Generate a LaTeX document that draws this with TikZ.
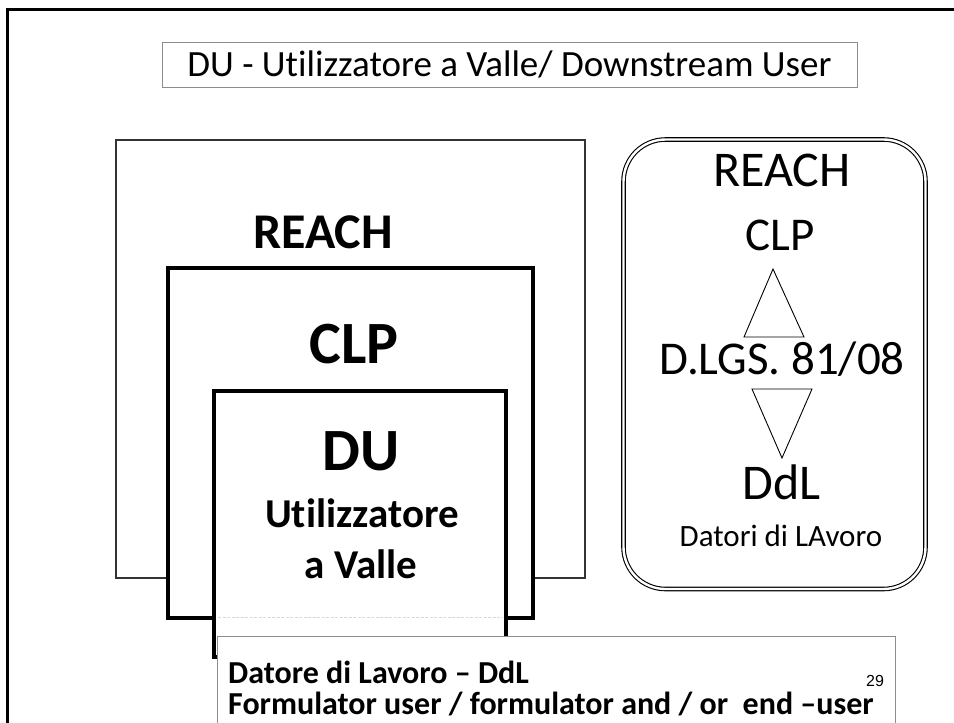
\documentclass[tikz,border=0pt]{standalone}
\usepackage{fontspec}
\setmainfont{Carlito}[Ligatures={NoCommon}]
\newfontfamily\arialf{Liberation Sans}
\begin{document}
\begin{tikzpicture}[x=1pt,y=-1pt,
  txt/.style={inner sep=0pt, anchor=base},
  thickbox/.style={draw=black, line width=4pt, fill=white},
  thinbox/.style={draw=black!80, line width=1.3pt},
  graybox/.style={draw=black!45, line width=0.9pt, fill=white},
  tri/.style={draw=black, line width=0.9pt}
]
\useasboundingbox (0,0) rectangle (954,723);
% slide frame
\draw[line width=3pt] (7,730) -- (7,9) -- (960,9);
% title
\node[graybox, minimum width=695pt, minimum height=45pt, inner sep=0pt,
      font=\fontsize{37}{37}\selectfont] (title) at (509.5,64.5)
      {DU - Utilizzatore a Valle/ Downstream User};
% nested boxes
\draw[thinbox] (116,140) rectangle (585,578);
\draw[thickbox] (168,268) rectangle (533,618);
\draw[thickbox] (214,391) rectangle (506,657);
\draw[black!15, line width=0.8pt, dash pattern=on 3pt off 1.5pt] (218,617) -- (503,617);
\node[txt, font=\fontsize{50}{50}\selectfont\bfseries] (reachL) at (323,248) {REACH};
\node[txt, font=\fontsize{60}{60}\selectfont\bfseries] (clpL) at (354,363) {CLP};
\node[txt, font=\fontsize{60}{60}\selectfont\bfseries] (duL) at (361,470) {DU};
\node[txt, font=\fontsize{41}{41}\selectfont\bfseries] (util) at (362,527) {Utilizzatore};
\node[txt, font=\fontsize{41}{41}\selectfont\bfseries] (valle) at (361,578) {a Valle};
% right rounded box
\draw[double, double distance=2.4pt, line width=1.1pt, rounded corners=42pt]
  (623.5,139.5) rectangle (925.5,589);
\node[txt, font=\fontsize{50}{50}\selectfont] (reachR) at (782,186) {REACH};
\node[txt, font=\fontsize{47}{47}\selectfont] (clpR) at (780,250) {CLP};
\node[txt, font=\fontsize{47}{47}\selectfont] (dlgs) at (782,374) {D.LGS. 81/08};
\node[txt, font=\fontsize{50}{50}\selectfont] (ddl) at (782,499) {DdL};
\node[txt, font=\fontsize{31}{31}\selectfont] (datori) at (781,546) {Datori di LAvoro};
\draw[tri] (773,269) -- (804,337) -- (744,337) -- cycle;
\draw[tri] (752,389) -- (812,389) -- (782,458) -- cycle;
% bottom text box
\draw[graybox] (217,636) rectangle (895,735);
\node[txt, anchor=base west, font=\fontsize{32}{32}\selectfont\bfseries] (line1) at (228,683) {Datore di Lavoro -- DdL};
\node[txt, anchor=base west, font=\fontsize{32}{32}\selectfont\bfseries] (line2) at (228,714) {Formulator user / formulator and / or\ \ end --user};
\node[txt, anchor=base west, font=\arialf\fontsize{16}{16}\selectfont] (pnum) at (866,686) {29};
\end{tikzpicture}
\end{document}
